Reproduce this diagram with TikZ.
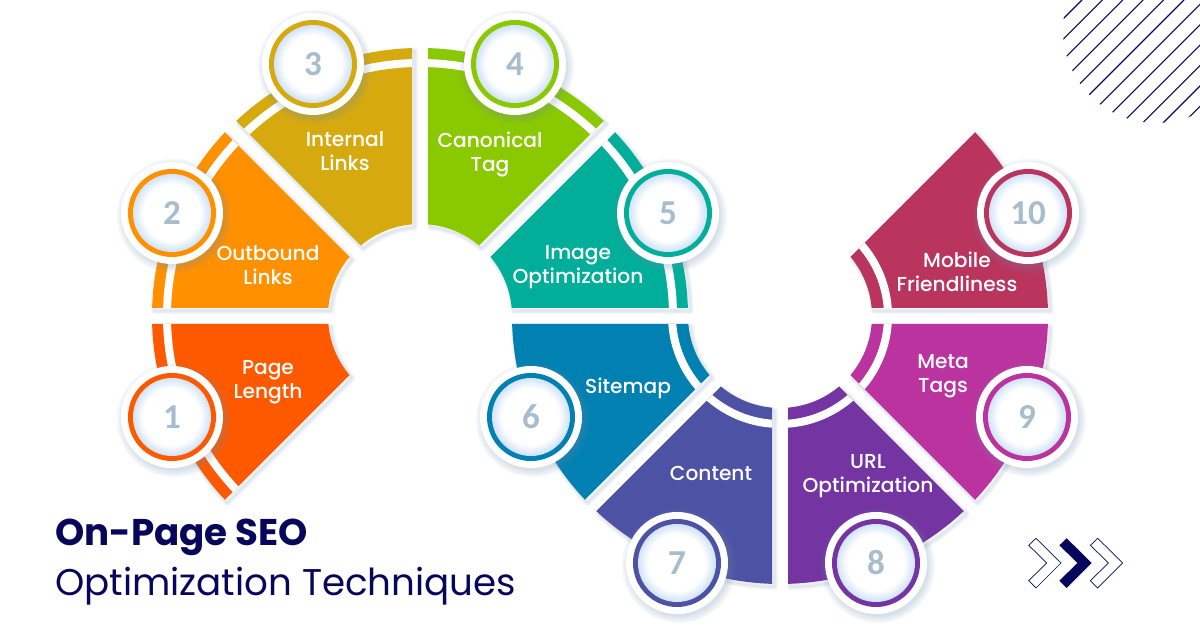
\documentclass[tikz,border=0pt]{standalone}
\usepackage{fontspec}
\setmainfont{Poppins}
\newfontfamily\lblfont{Poppins Medium}
\newfontfamily\numfont{Carlito}[BoldFont={Carlito Bold}]
\definecolor{c1}{HTML}{FF5900}
\definecolor{c2}{HTML}{FF9100}
\definecolor{c3}{HTML}{D6A90F}
\definecolor{c4}{HTML}{8AC800}
\definecolor{c5}{HTML}{00AE99}
\definecolor{c6}{HTML}{0180B2}
\definecolor{c7}{HTML}{4E52A4}
\definecolor{c8}{HTML}{7434A2}
\definecolor{c9}{HTML}{BB339E}
\definecolor{c10}{HTML}{BA355E}
\definecolor{navy}{HTML}{06065A}
\definecolor{numcol}{HTML}{A7BDCE}
\definecolor{shadcol}{HTML}{6F8FB0}
\definecolor{glowcol}{HTML}{D2E4F6}
\tikzset{
  lbl/.style={text=white,align=center,font=\lblfont\fontsize{20.2}{24}\selectfont},
  num/.style={text=numcol,font=\numfont\bfseries\fontsize{35}{35}\selectfont},
  titlebold/.style={text=navy,anchor=base west,inner sep=0pt,font=\bfseries\fontsize{37.2}{40}\selectfont},
  titlereg/.style={text=navy,anchor=base west,inner sep=0pt,font=\fontsize{37.2}{40}\selectfont},
  chev/.style={draw=navy,line width=0.7pt,fill=white,line join=miter},
  chevfull/.style={fill=navy},
}
\newcommand{\wedgepath}{({\a+1.711}:268pt) arc[start angle={\a+1.711},end angle={\a+43.289},radius=268pt] -- ({\a+40.012}:92pt) arc[start angle={\a+40.012},end angle={\a+4.988},radius=92pt] -- cycle}
\begin{document}
\begin{tikzpicture}[x=1pt,y=1pt]
\useasboundingbox (0,0) rectangle (1200,628);
\fill[white] (0,0) rectangle (1200,628);
% hatch
\begin{scope}
\clip (1156,598) circle[radius=93pt];
\foreach \k in {0,...,11}{
  \pgfmathsetmacro\cc{1082+20.4*\k}
  \draw[navy,line width=1.1pt] ({\cc-300},{628-300}) -- ({\cc},628);
}
\end{scope}
% wedge shadows
\foreach \cx/\a in {420/180,420/135,420/90,420/45,420/0,780/180,780/225,780/270,780/315,780/0}{
  \begin{scope}[shift={(\cx,312)}]
  \foreach \w in {7,5,3,1}{
    \draw[shadcol,opacity=.06,line width=\w pt,line join=round,shift={(2.5,-3)}] \wedgepath;
  }
  \end{scope}
}
% wedges
\foreach \cx/\a/\sr/\c in {420/180/253/c1,420/135/253/c2,420/90/253/c3,420/45/253/c4,420/0/253/c5,780/180/108/c6,780/225/108/c7,780/270/108/c8,780/315/108/c9,780/0/108/c10}{
  \begin{scope}[shift={(\cx,312)}]
    \fill[\c] \wedgepath;
    \begin{scope}
      \clip \wedgepath;
      \draw[white,line width=8pt] (0,0) circle[radius=\sr pt];
    \end{scope}
  \end{scope}
}
% circles
\foreach \n/\x/\y/\c in {1/172/211/c1,2/172/415/c2,3/313/564/c3,4/515/564/c4,5/668/415/c5,6/531/211/c6,7/677/65/c7,8/876/65/c8,9/1027/211/c9,10/1028/415/c10}{
  \foreach \w in {8,6,4,2}{
    \fill[shadcol,opacity=.07] (\x+2,\y-3) circle[radius={51+\w-2}];
  }
  \fill[white] (\x,\y) circle[radius=51pt];
  \fill[\c] (\x,\y) circle[radius=44pt];
  \foreach \i in {0,...,10}{
    \pgfmathsetmacro\mixv{\i*10}
    \fill[white!\mixv!glowcol] (\x,\y) circle[radius={39-\i*1.0}];
  }
  \node[num] (n\n) at (\x,\y) {\n};
}
% labels
\node[lbl] (l1) at (268,246) {Page\\Length};
\node[lbl] (l2) at (268,363) {Outbound\\Links};
\node[lbl] (l3) at (345,477) {Internal\\Links};
\node[lbl] (l4) at (490,474) {Canonical\\Tag};
\node[lbl] (l5) at (578,361) {Image\\Optimization};
\node[lbl] (l6) at (628,240) {Sitemap};
\node[lbl] (l7) at (711,155) {Content};
\node[lbl] (l8) at (868,152) {URL\\Optimization};
\node[lbl] (l9) at (943,252) {Meta\\Tags};
\node[lbl] (l10) at (957,356) {Mobile\\Friendliness};
% title
\node[titlebold] (t1) at (55,82.5) {On-Page SEO};
\node[titlereg] (t2) at (55,32.5) {Optimization Techniques};
% chevrons
\foreach \dx/\st in {0/chev,30.7/chevfull,61.7/chev}{
  \path[\st,shift={(\dx,0)}] (1036,89.7) -- (1061,65) -- (1036,40) -- (1028.7,47.3) -- (1046.7,65) -- (1028.7,82.7) -- cycle;
}
\end{tikzpicture}
\end{document}
